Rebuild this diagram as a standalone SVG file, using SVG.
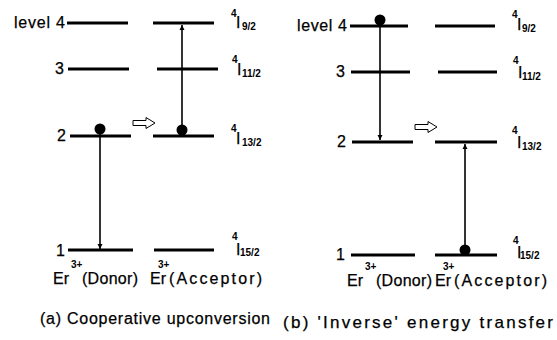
<svg xmlns="http://www.w3.org/2000/svg" width="557" height="340" viewBox="0 0 557 340">
<defs>
<marker id="ah" viewBox="0 0 10 10" refX="10" refY="5" markerWidth="5" markerHeight="7" orient="auto" markerUnits="userSpaceOnUse">
<path d="M0,0 L10,5 L0,10 Z" fill="#000"/>
</marker>
<g id="hollow">
<path d="M0,-2.5 H13 V-5.5 L22,0 L13,5.5 V2.5 H0 Z" fill="#fff" stroke="#000" stroke-width="1"/>
</g>
</defs>
<style>
.lv{stroke:#000;stroke-width:3.2;fill:none}
.ar{stroke:#000;stroke-width:1.6;fill:none;marker-end:url(#ah)}
.t{font-family:"Liberation Sans",Arial,sans-serif;font-size:16px;fill:#000;stroke:#000;stroke-width:0.25}
.s{font-family:"Liberation Sans",Arial,sans-serif;font-size:10px;font-weight:bold;fill:#000}
.c{font-family:"Liberation Sans",Arial,sans-serif;font-size:16px;fill:#000;stroke:#000;stroke-width:0.25}
</style>
<rect width="557" height="340" fill="#fff"/>

<!-- Panel (a) -->
<g id="a-levels">
<g id="a-d4"><line class="lv" x1="67" y1="23" x2="128" y2="23"/></g>
<g id="a-a4"><line class="lv" x1="153" y1="23" x2="214" y2="23"/></g>
<g id="a-d3"><line class="lv" x1="68" y1="69" x2="129" y2="69"/></g>
<g id="a-a3"><line class="lv" x1="157" y1="69" x2="218" y2="69"/></g>
<g id="a-d2"><line class="lv" x1="70" y1="136" x2="131" y2="136"/><circle cx="100" cy="129" r="5.5"/></g>
<g id="a-a2"><line class="lv" x1="153" y1="136" x2="214" y2="136"/><circle cx="182" cy="130" r="5.5"/></g>
<g id="a-d1"><line class="lv" x1="68" y1="250" x2="133" y2="250"/></g>
<g id="a-a1"><line class="lv" x1="154" y1="250" x2="214" y2="250"/></g>
</g>
<g id="a-labels">
<text class="t" x="14" y="28" textLength="51" lengthAdjust="spacing">level 4</text>
<text class="t" x="55" y="74">3</text>
<text class="t" x="57" y="141">2</text>
<text class="t" x="56" y="256">1</text>
<text class="s" x="231" y="17">4</text><text class="t" x="236" y="28">I</text><text class="s" x="242" y="30">9/2</text>
<text class="s" x="232" y="63">4</text><text class="t" x="237" y="75">I</text><text class="s" x="242" y="77">11/2</text>
<text class="s" x="231" y="132">4</text><text class="t" x="236" y="144">I</text><text class="s" x="242" y="146">13/2</text>
<text class="s" x="232" y="240">4</text><text class="t" x="236" y="255">I</text><text class="s" x="240" y="256">15/2</text>
<text class="t" x="53" y="284">Er</text><text class="s" x="71" y="268">3+</text><text class="t" x="82" y="284" textLength="56" lengthAdjust="spacing">(Donor)</text>
<text class="t" x="150" y="284">Er</text><text class="s" x="158" y="268">3+</text><text class="t" x="169" y="284" textLength="93" lengthAdjust="spacing">(Acceptor)</text>
<text class="c" x="40" y="324" textLength="230" lengthAdjust="spacing">(a) Cooperative upconversion</text>
</g>

<!-- Panel (b) -->
<g id="b-levels">
<g id="b-d4"><line class="lv" x1="350" y1="26" x2="408" y2="26"/><circle cx="380" cy="20" r="5.5"/></g>
<g id="b-a4"><line class="lv" x1="435" y1="26" x2="495" y2="26"/></g>
<g id="b-d3"><line class="lv" x1="351" y1="72" x2="410" y2="72"/></g>
<g id="b-a3"><line class="lv" x1="438" y1="72" x2="497" y2="72"/></g>
<g id="b-d2"><line class="lv" x1="352" y1="142" x2="413" y2="142"/></g>
<g id="b-a2"><line class="lv" x1="435" y1="142" x2="497" y2="142"/></g>
<g id="b-d1"><line class="lv" x1="351" y1="255" x2="415" y2="255"/></g>
<g id="b-a1"><line class="lv" x1="435" y1="255" x2="497" y2="255"/><circle cx="465" cy="250" r="5.5"/></g>
</g>
<g id="b-labels">
<text class="t" x="297" y="31" textLength="50" lengthAdjust="spacing">level 4</text>
<text class="t" x="336" y="77">3</text>
<text class="t" x="337" y="147">2</text>
<text class="t" x="336" y="260">1</text>
<text class="s" x="512" y="18">4</text><text class="t" x="517" y="30">I</text><text class="s" x="522" y="32">9/2</text>
<text class="s" x="513" y="64">4</text><text class="t" x="518" y="78">I</text><text class="s" x="522" y="80">11/2</text>
<text class="s" x="512" y="134">4</text><text class="t" x="517" y="148">I</text><text class="s" x="522" y="150">13/2</text>
<text class="s" x="513" y="244">4</text><text class="t" x="517" y="258">I</text><text class="s" x="520" y="259">15/2</text>
<text class="t" x="347" y="286">Er</text><text class="s" x="365" y="270">3+</text><text class="t" x="376" y="286" textLength="56" lengthAdjust="spacing">(Donor)</text>
<text class="t" x="435" y="286">Er</text><text class="s" x="443" y="270">3+</text><text class="t" x="454" y="286" textLength="93" lengthAdjust="spacing">(Acceptor)</text>
<text class="c" x="283" y="328" textLength="270" lengthAdjust="spacing" style="font-size:17px">(b) 'Inverse' energy transfer</text>
</g>

<g id="connectors">
<line class="ar" x1="100" y1="134" x2="100" y2="249"/>
<line class="ar" x1="182" y1="126" x2="182" y2="25"/>
<use href="#hollow" x="133" y="123"/>
<line class="ar" x1="380" y1="25" x2="380" y2="140"/>
<line class="ar" x1="465" y1="246" x2="465" y2="144"/>
<use href="#hollow" x="415" y="127"/>
</g>
</svg>
